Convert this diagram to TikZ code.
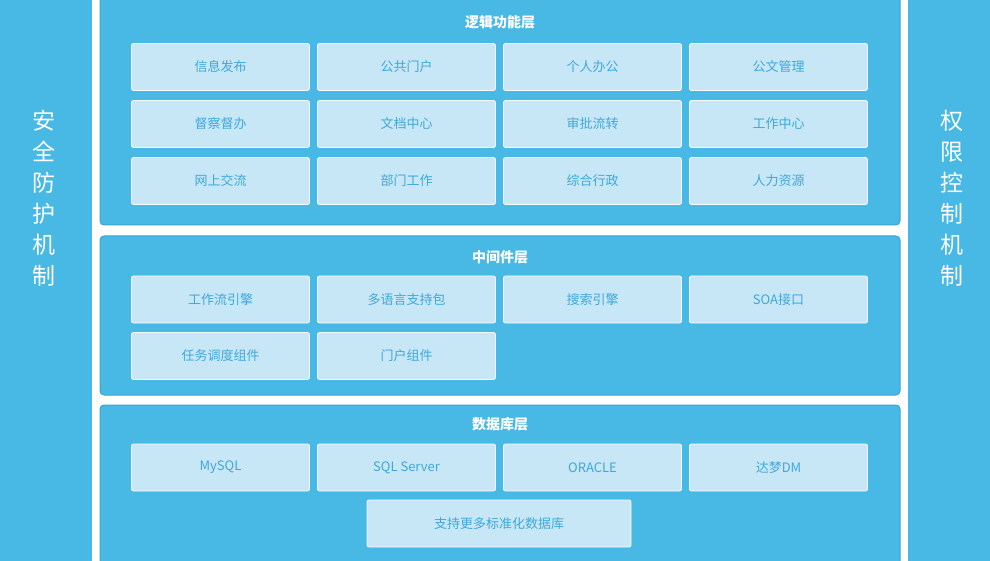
\documentclass[tikz,border=0pt]{standalone}
\usepackage{fontspec}
\newfontfamily\cjk{Noto Sans CJK SC}
\definecolor{panelblue}{HTML}{48B8E4}
\definecolor{edgeblue}{HTML}{3AA5D6}
\definecolor{boxfill}{HTML}{C8E7F6}
\definecolor{textblue}{HTML}{3DA8DC}
\begin{document}
\begin{tikzpicture}[x=1pt,y=-1pt,font=\cjk]
  \tikzset{
    layer/.style={fill=panelblue,draw=edgeblue,line width=1pt,rounded corners=4pt},
    side/.style={fill=panelblue},
    cell/.style={fill=boxfill,draw=white!85!boxfill,line width=0.8pt,rounded corners=2pt,
      minimum width=178pt,minimum height=47pt,text=textblue,font=\cjk\fontsize{13}{15}\selectfont},
    title/.style={text=white,font=\cjk\bfseries\fontsize{14}{16}\selectfont},
    sidetext/.style={text=white,align=center,font=\cjk\fontsize{23}{31}\selectfont}
  }
  \useasboundingbox (0,0) rectangle (990,561);
  % side bars
  \fill[side] (0,-5) rectangle (92,561);
  \fill[side] (908,-5) rectangle (990,561);
  \node[sidetext] (safe) at (44,198) {安\\全\\防\\护\\机\\制};
  \node[sidetext] (perm) at (952,198) {权\\限\\控\\制\\机\\制};
  % layers
  \draw[layer] (100,-6) rectangle (900,225);
  \draw[layer] (100,236) rectangle (900,395);
  \draw[layer] (100,405) rectangle (900,570);
  \node[title] (logic) at (500,22) {逻辑功能层};
  \node[title] (mid) at (500,257) {中间件层};
  \node[title] (db) at (500,424) {数据库层};
  % logic cells
  \foreach \t [count=\i from 0] in {信息发布,公共门户,个人办公,公文管理,
      督察督办,文档中心,审批流转,工作中心,网上交流,部门工作,综合行政,人力资源}
    \node[cell] (l\i) at ({220.5+186*mod(\i,4)},{67+57*floor(\i/4)}) {\t};
  % middleware cells
  \foreach \t [count=\i from 0] in {工作流引擎,多语言支持包,搜索引擎,SOA接口,任务调度组件,门户组件}
    \node[cell] (m\i) at ({220.5+186*mod(\i,4)},{299.5+56.5*floor(\i/4)}) {\t};
  % database cells
  \foreach \t [count=\i from 0] in {MySQL,SQL Server,ORACLE,达梦DM}
    \node[cell] (d\i) at ({220.5+186*\i},467.5) {\t};
  \node[cell,minimum width=264pt] (more) at (499,523.5) {支持更多标准化数据库};
\end{tikzpicture}
\end{document}
